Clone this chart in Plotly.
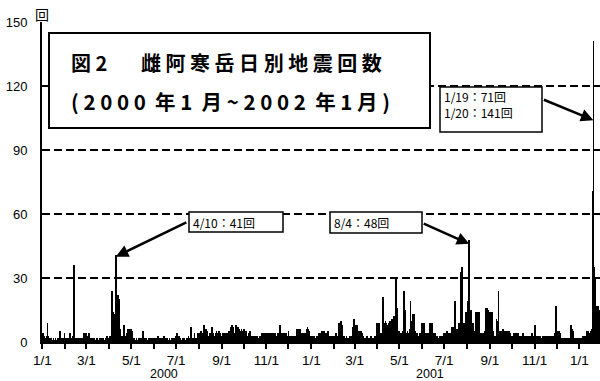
import pandas as pd
import plotly.graph_objects as go

# Daily earthquake counts
jan00 = [3,4,2,3,1,2,3,9,3,2,2,1,2,1,1,2,1,1,2,1,1,2,1,2,5,1,1,2,1,2,4]
feb00 = [1,2,1,1,2,1,2,4,1,2,2,3,36,2,1,1,2,1,1,2,1,1,2,1,2,3,4,3,4]
mar00 = [4,3,3,4,2,1,2,1,1,2,1,2,1,1,2,1,1,1,2,1,2,1,1,2,1,1,2,1,3,1,2]
apr00 = [2,3,2,3,24,13,14,12,13,41,22,21,22,20,10,6,3,2,3,2,8,3,2,3,4,3,6,6,5,6]
may00 = [6,5,2,1,2,1,1,2,1,1,2,1,2,1,1,2,5,2,1,1,2,1,1,1,2,1,1,2,1,1,2]
jun00 = [1,2,1,1,2,3,2,1,2,1,1,2,1,2,3,2,1,1,2,1,1,2,1,1,2,1,2,1,1,2]
jul00 = [3,4,3,2,3,1,2,1,1,2,1,2,1,1,2,1,2,3,2,1,7,3,2,1,2,4,2,1,2,3,4]
aug00 = [4,3,4,5,3,4,2,8,6,5,6,5,3,2,3,4,2,3,7,4,3,2,3,4,5,3,4,5,3,4,3]
sep00 = [3,4,3,4,2,3,4,3,2,4,5,5,6,7,8,7,7,4,3,7,8,7,6,7,6,4,5,6,5,5]
oct00 = [6,4,5,5,3,2,3,4,2,5,3,2,2,3,2,3,2,3,2,3,2,2,3,2,3,4,4,3,4,4,4]
nov00 = [3,4,4,3,4,4,3,2,4,3,4,3,4,2,3,4,3,4,8,4,3,4,3,2,4,3,3,4,2,3]
dec00 = [5,3,2,3,2,3,2,3,2,3,2,3,6,5,6,5,6,3,4,3,2,4,3,3,4,6,7,6,5,3,2]
jan01 = [3,2,3,2,3,2,1,2,3,2,4,3,4,3,5,4,5,5,5,3,4,3,4,5,3,2,3,2,3,2,3]
feb01 = [2,3,2,4,3,2,9,9,9,10,9,8,3,2,3,1,2,3,2,2,1,2,3,2,3,6,7,11]
mar01 = [8,7,8,7,8,5,4,5,4,5,4,2,3,2,2,1,2,3,2,1,2,2,3,1,2,2,1,2,3,2,9]
apr01 = [9,8,9,8,4,3,4,5,21,9,9,10,9,8,5,4,9,10,9,10,11,10,11,12,11,30,17,16,5,4]
may01 = [5,4,3,4,5,3,24,15,15,4,3,5,4,3,6,19,8,10,13,12,13,4,5,3,4,3,2,3,4,3,9]
jun01 = [9,9,8,9,4,3,4,3,4,3,9,9,8,9,9,4,3,4,4,3,2,3,2,2,3,2,3,2,3,4]
jul01 = [4,3,4,4,5,4,4,4,3,4,6,7,7,5,5,19,6,6,5,4,9,5,5,33,35,5,6,9,9,6,14]
aug01 = [14,19,12,48,12,15,6,5,9,5,4,5,14,13,14,13,14,5,4,3,4,3,4,3,5,16,15,16,16,15,14]
sep01 = [5,14,13,14,5,4,3,3,2,11,10,5,24,5,5,4,5,5,6,5,4,5,4,5,4,5,4,5,4,3]
oct01 = [3,2,3,4,4,3,4,4,4,3,2,3,2,3,2,4,3,2,3,2,3,2,3,2,3,2,3,4,3,2,3]
nov01 = [3,8,3,2,3,2,3,2,3,2,2,3,2,3,2,3,2,3,2,3,2,3,2,2,3,2,3,2,4,17]
dec01 = [5,4,5,4,5,4,2,1,2,1,2,1,2,2,1,2,1,2,1,4,8,6,5,3,2,1,2,1,1,2,1]
jan02 = [2,1,2,1,2,3,2,3,2,3,5,3,5,4,3,4,5,6,71,141,35,30,29,10,17,16,17,15]

months = [jan00, feb00, mar00, apr00, may00, jun00, jul00, aug00, sep00, oct00,
          nov00, dec00, jan01, feb01, mar01, apr01, may01, jun01, jul01, aug01,
          sep01, oct01, nov01, dec01, jan02]
counts = [v for m in months for v in m]
dates = pd.date_range("2000-01-01", periods=len(counts), freq="D")

tick_dates = pd.date_range("2000-01-01", "2002-01-01", freq="MS")
tick_text = [f"{d.month}/1" if d.month % 2 == 1 else "" for d in tick_dates]

title_line1 = "図\u00a02\u3000   雌 阿 寒 岳 日 別 地 震 回 数"
title_line2 = "( 2 0 0 0  年 1  月 ~ 2 0 0 2  年 1 月 )"
note1 = "4/10：41回"
note2 = "8/4：48回"
note3 = "1/19：71回<br>1/20：141回"
year_labels = ["2000", "2001"]
year_pos = ["2000-06-14", "2001-06-12"]

W, H = 600, 381
ML, MR, MT, MB = 42, 0, 22, 39
PW, PH = W - ML - MR, H - MT - MB

def px(x):
    return (x - ML) / PW

def py(y):
    return (H - MB - y) / PH

fig = go.Figure()
fig.add_trace(go.Bar(x=dates, y=counts, marker_color="black",
                     marker_line_width=0, width=86400000))

fig.update_layout(
    width=W, height=H, margin=dict(l=ML, r=MR, t=MT, b=MB),
    paper_bgcolor="white", plot_bgcolor="white", showlegend=False,
    bargap=0,
    font=dict(family="Liberation Sans, Arial, sans-serif", size=13, color="black"),
)
fig.update_xaxes(
    type="date", range=["1999-12-31 12:00", "2002-01-29"],
    tickvals=tick_dates, ticktext=tick_text, ticks="outside", ticklen=5,
    tickwidth=1.5, tickcolor="black", showline=True, linecolor="black",
    linewidth=1.5, showgrid=False, zeroline=False,
    tickfont=dict(size=13.5), ticklabelstandoff=0,
)
fig.update_yaxes(
    range=[0, 150], tickvals=[0, 30, 60, 90, 120, 150], showline=True,
    linecolor="black", linewidth=2, showgrid=True, gridcolor="black",
    gridwidth=1.5, griddash="8px,4px", zeroline=False, ticks="",
    ticklabelstandoff=10, tickfont=dict(size=13),
)

# title box
fig.add_shape(type="rect", xref="paper", yref="paper",
              x0=px(49), x1=px(430), y0=py(128), y1=py(33),
              line=dict(color="black", width=2), fillcolor="white", layer="above")
# note boxes
for (x0, y0, x1, y1) in [(189, 212, 283, 232), (330, 212, 422, 233), (440, 87, 542, 132)]:
    fig.add_shape(type="rect", xref="paper", yref="paper",
                  x0=px(x0), x1=px(x1), y0=py(y1), y1=py(y0),
                  line=dict(color="black", width=1.5), fillcolor="white", layer="above")

cjk = "Noto Sans CJK JP"
fig.add_annotation(xref="paper", yref="paper", x=px(69), y=py(62), xanchor="left",
                   yanchor="middle", text=f"<b>{title_line1}</b>", showarrow=False,
                   font=dict(family=cjk, size=20, color="black"))
fig.add_annotation(xref="paper", yref="paper", x=px(69), y=py(101), xanchor="left",
                   yanchor="middle", text=f"<b>{title_line2}</b>", showarrow=False,
                   font=dict(family=cjk, size=20.5, color="black"))

for txt, x0, yc in [(note1, 191, 222), (note2, 332, 222.5), (note3, 442, 104)]:
    fig.add_annotation(xref="paper", yref="paper", x=px(x0), y=py(yc), xanchor="left",
                       yanchor="middle", text=txt, showarrow=False, align="left",
                       font=dict(family=cjk, size=12, color="black"))

# arrows
for xd, yv, ax, ay in [("2000-04-10", 40, 72, -35), ("2001-08-04", 46, -47, -21),
                       ("2002-01-20", 104, -51, -21)]:
    fig.add_annotation(x=xd, y=yv, xref="x", yref="y", text="", showarrow=True,
                       ax=ax, ay=ay, arrowhead=2, arrowsize=1, arrowwidth=2.5,
                       arrowcolor="black", standoff=0)

# unit label
fig.add_annotation(xref="paper", yref="paper", x=px(42), y=py(14), xanchor="center",
                   yanchor="middle", text="回", showarrow=False,
                   font=dict(family=cjk, size=14, color="black"))
# year labels
for lab, xd in zip(year_labels, year_pos):
    fig.add_annotation(x=xd, xref="x", yref="paper", y=py(374), yanchor="middle",
                       text=lab, showarrow=False, borderpad=0,
                       font=dict(family="Liberation Sans, Arial, sans-serif", size=12.5))

fig.write_html("out.html", config={"displayModeBar": False},
               post_script="document.body.style.margin='0';document.body.style.overflow='hidden';")
